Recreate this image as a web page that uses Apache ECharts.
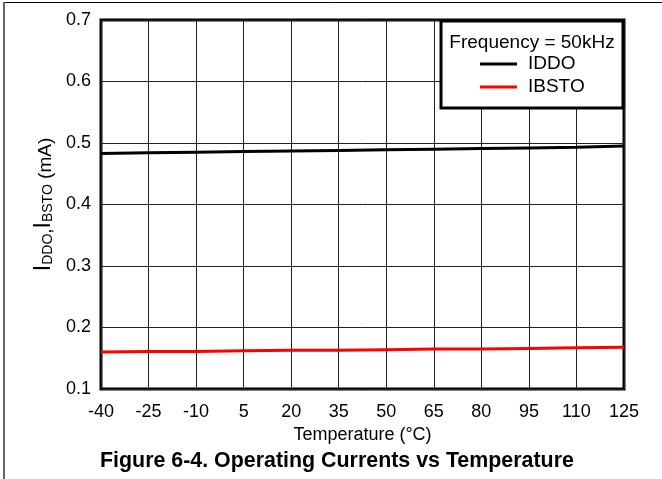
<!DOCTYPE html>
<html>
<head>
<meta charset="utf-8">
<script src="https://cdn.jsdelivr.net/npm/echarts@6/dist/echarts.min.js"></script>
<style>
  html, body { margin: 0; padding: 0; background: #fff; }
  #chart { width: 662px; height: 479px; }
</style>
</head>
<body>
<div id="chart"></div>
<script>
  // temperature steps on the x axis (°C)
  const temps = ['-40', '-25', '-10', '5', '20', '35', '50', '65', '80', '95', '110', '125']
  // operating currents (mA)
  const iddo = [0.483, 0.484, 0.485, 0.486, 0.487, 0.488, 0.489, 0.490, 0.491, 0.492, 0.493, 0.495]
  const ibsto = [0.160, 0.161, 0.161, 0.162, 0.163, 0.163, 0.164, 0.165, 0.165, 0.166, 0.167, 0.168]
  const seriesNames = ['IDDO', 'IBSTO']
  const seriesColors = ['#000000', '#ff0000']

  const font = '"Liberation Sans", Arial, sans-serif'
  const chart = echarts.init(document.getElementById('chart'))

  chart.setOption({
    animation: false,
    textStyle: { fontFamily: font },
    title: {
      text: 'Figure 6-4. Operating Currents vs Temperature',
      left: 100,
      top: 451,
      padding: 0,
      textStyle: { fontFamily: font, fontSize: 21.4, fontWeight: 'bold', color: '#000' }
    },
    grid: {
      left: 101,
      right: 38,
      top: 20,
      bottom: 90,
      show: true,
      borderColor: '#000',
      borderWidth: 3,
      backgroundColor: 'transparent'
    },
    legend: {
      orient: 'vertical',
      left: 480,
      top: 54,
      z: 80,
      padding: 0,
      itemGap: 3,
      itemWidth: 37,
      itemHeight: 3,
      icon: 'rect',
      data: seriesNames,
      textStyle: { fontFamily: font, fontSize: 19, color: '#000', lineHeight: 20, padding: [0, 0, 0, 6] }
    },
    xAxis: {
      type: 'category',
      data: temps,
      boundaryGap: false,
      name: 'Temperature (°C)',
      nameLocation: 'middle',
      nameGap: 34,
      nameTextStyle: { fontFamily: font, fontSize: 18, color: '#000' },
      axisLine: { show: false },
      axisTick: { show: false },
      axisLabel: { fontFamily: font, fontSize: 18, color: '#000', margin: 14, interval: 0 },
      splitLine: { show: true, lineStyle: { color: '#222', width: 1 } }
    },
    yAxis: {
      type: 'value',
      min: 0.1,
      max: 0.7,
      interval: 0.1,
      name: '{i|I}{s|DDO}{c|,}{i|I}{s|BSTO}{u| (mA)}',
      nameLocation: 'middle',
      nameRotate: 90,
      nameGap: 46,
      nameTextStyle: {
        color: '#000',
        rich: {
          i: { fontFamily: font, fontSize: 23, color: '#000', lineHeight: 24, verticalAlign: 'bottom' },
          s: { fontFamily: font, fontSize: 14, color: '#000', lineHeight: 24, verticalAlign: 'bottom' },
          c: { fontFamily: font, fontSize: 19, color: '#000', lineHeight: 24, verticalAlign: 'bottom' },
          u: { fontFamily: font, fontSize: 19, color: '#000', lineHeight: 24, verticalAlign: 'bottom' }
        }
      },
      axisLine: { show: false },
      axisTick: { show: false },
      axisLabel: {
        fontFamily: font, fontSize: 18, color: '#000', margin: 10,
        formatter: v => v.toFixed(1)
      },
      splitLine: { show: true, lineStyle: { color: '#222', width: 1 } }
    },
    graphic: [
      // outer frame of the figure
      { type: 'line', shape: { x1: 3, y1: 2.5, x2: 662, y2: 2.5 }, style: { stroke: '#000', lineWidth: 1 }, z: 100 },
      { type: 'line', shape: { x1: 4, y1: 2, x2: 4, y2: 479 }, style: { stroke: '#666', lineWidth: 2 }, z: 100 },
      // legend box
      {
        type: 'rect',
        shape: { x: 441, y: 21, width: 182, height: 87 },
        style: { fill: '#fff', stroke: '#000', lineWidth: 3 },
        z: 50
      },
      {
        type: 'text',
        x: 532,
        y: 43,
        style: {
          text: 'Frequency = 50kHz',
          font: '19px ' + font,
          fill: '#000',
          align: 'center',
          verticalAlign: 'middle'
        },
        z: 51
      }
    ],
    series: [
      {
        name: seriesNames[0],
        type: 'line',
        data: iddo,
        symbol: 'none',
        itemStyle: { color: seriesColors[0] },
        lineStyle: { color: seriesColors[0], width: 3 },
        z: 10
      },
      {
        name: seriesNames[1],
        type: 'line',
        data: ibsto,
        symbol: 'none',
        itemStyle: { color: seriesColors[1] },
        lineStyle: { color: seriesColors[1], width: 3 },
        z: 10
      }
    ]
  })
</script>
</body>
</html>
